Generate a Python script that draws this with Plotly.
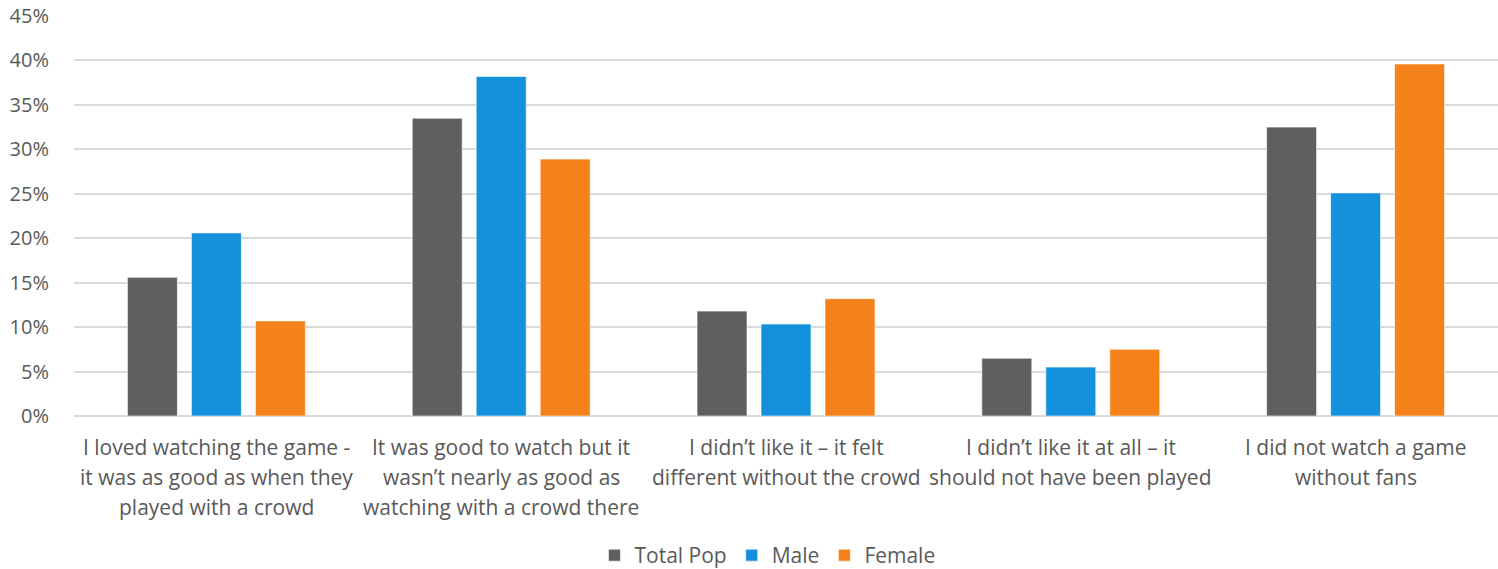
import plotly.graph_objects as go

categories = [
    "I loved watching the game -<br>it was as good as when they<br>played with a crowd",
    "It was good to watch but it<br>wasn’t nearly as good as<br>watching with a crowd there",
    "I didn’t like it – it felt<br>different without the crowd",
    "I didn’t like it at all – it<br>should not have been played",
    "I did not watch a game<br>without fans",
]
total_pop = [15.6, 33.5, 11.8, 6.5, 32.5]
male = [20.6, 38.2, 10.35, 5.5, 25.1]
female = [10.7, 28.9, 13.2, 7.5, 39.6]

series = [
    ("Total Pop", total_pop, "#5f5f5f"),
    ("Male", male, "#1391dd"),
    ("Female", female, "#f4811a"),
]

FONT = "'Open Sans', sans-serif"
TEXT = "#595959"

# plot area geometry (pixels)
W, H = 1498, 569
M_L, M_R, M_T, M_B = 74, 0, 16, 153
PLOT_H = H - M_T - M_B


def paper_y(px):
    """Convert a pixel row below the plot into paper coordinates."""
    return -(px - (H - M_B)) / PLOT_H


fig = go.Figure()
for name, vals, color in series:
    fig.add_trace(go.Bar(
        name=name, x=categories, y=vals,
        marker=dict(color=color, line=dict(color="rgba(255,255,255,0.6)", width=1)),
    ))

# category labels: one annotation per line, 30px line pitch
first_line_px = 447
line_pitch = 30
for cat in categories:
    for i, line in enumerate(cat.split("<br>")):
        fig.add_annotation(
            x=cat, xref="x", y=paper_y(first_line_px + i * line_pitch), yref="paper",
            text=line, showarrow=False, xanchor="center", yanchor="middle",
            font=dict(family=FONT, size=21, color=TEXT),
        )

fig.update_layout(
    width=W, height=H,
    margin=dict(l=M_L, r=M_R, t=M_T, b=M_B, autoexpand=False),
    plot_bgcolor="white", paper_bgcolor="white",
    barmode="group", bargap=0.326, bargroupgap=0.219,
    font=dict(family=FONT, size=21, color=TEXT),
    showlegend=True,
    legend=dict(orientation="h", x=0.487, xanchor="center", y=paper_y(576),
                yanchor="bottom", font=dict(size=21, color=TEXT), traceorder="normal",
                itemwidth=30, tracegroupgap=0),
)
fig.update_yaxes(
    range=[0, 45], dtick=5, ticksuffix="%",
    showgrid=True, gridcolor="#d9d9d9", gridwidth=1.5,
    zeroline=True, zerolinecolor="#d9d9d9", zerolinewidth=1.5,
    ticks="outside", ticklen=20, tickcolor="rgba(0,0,0,0)",
    tickfont=dict(size=20, color=TEXT), fixedrange=True, automargin=False,
)
fig.update_xaxes(
    showline=False, showgrid=False, showticklabels=False, automargin=False,
)

fig.write_html("out.html")
